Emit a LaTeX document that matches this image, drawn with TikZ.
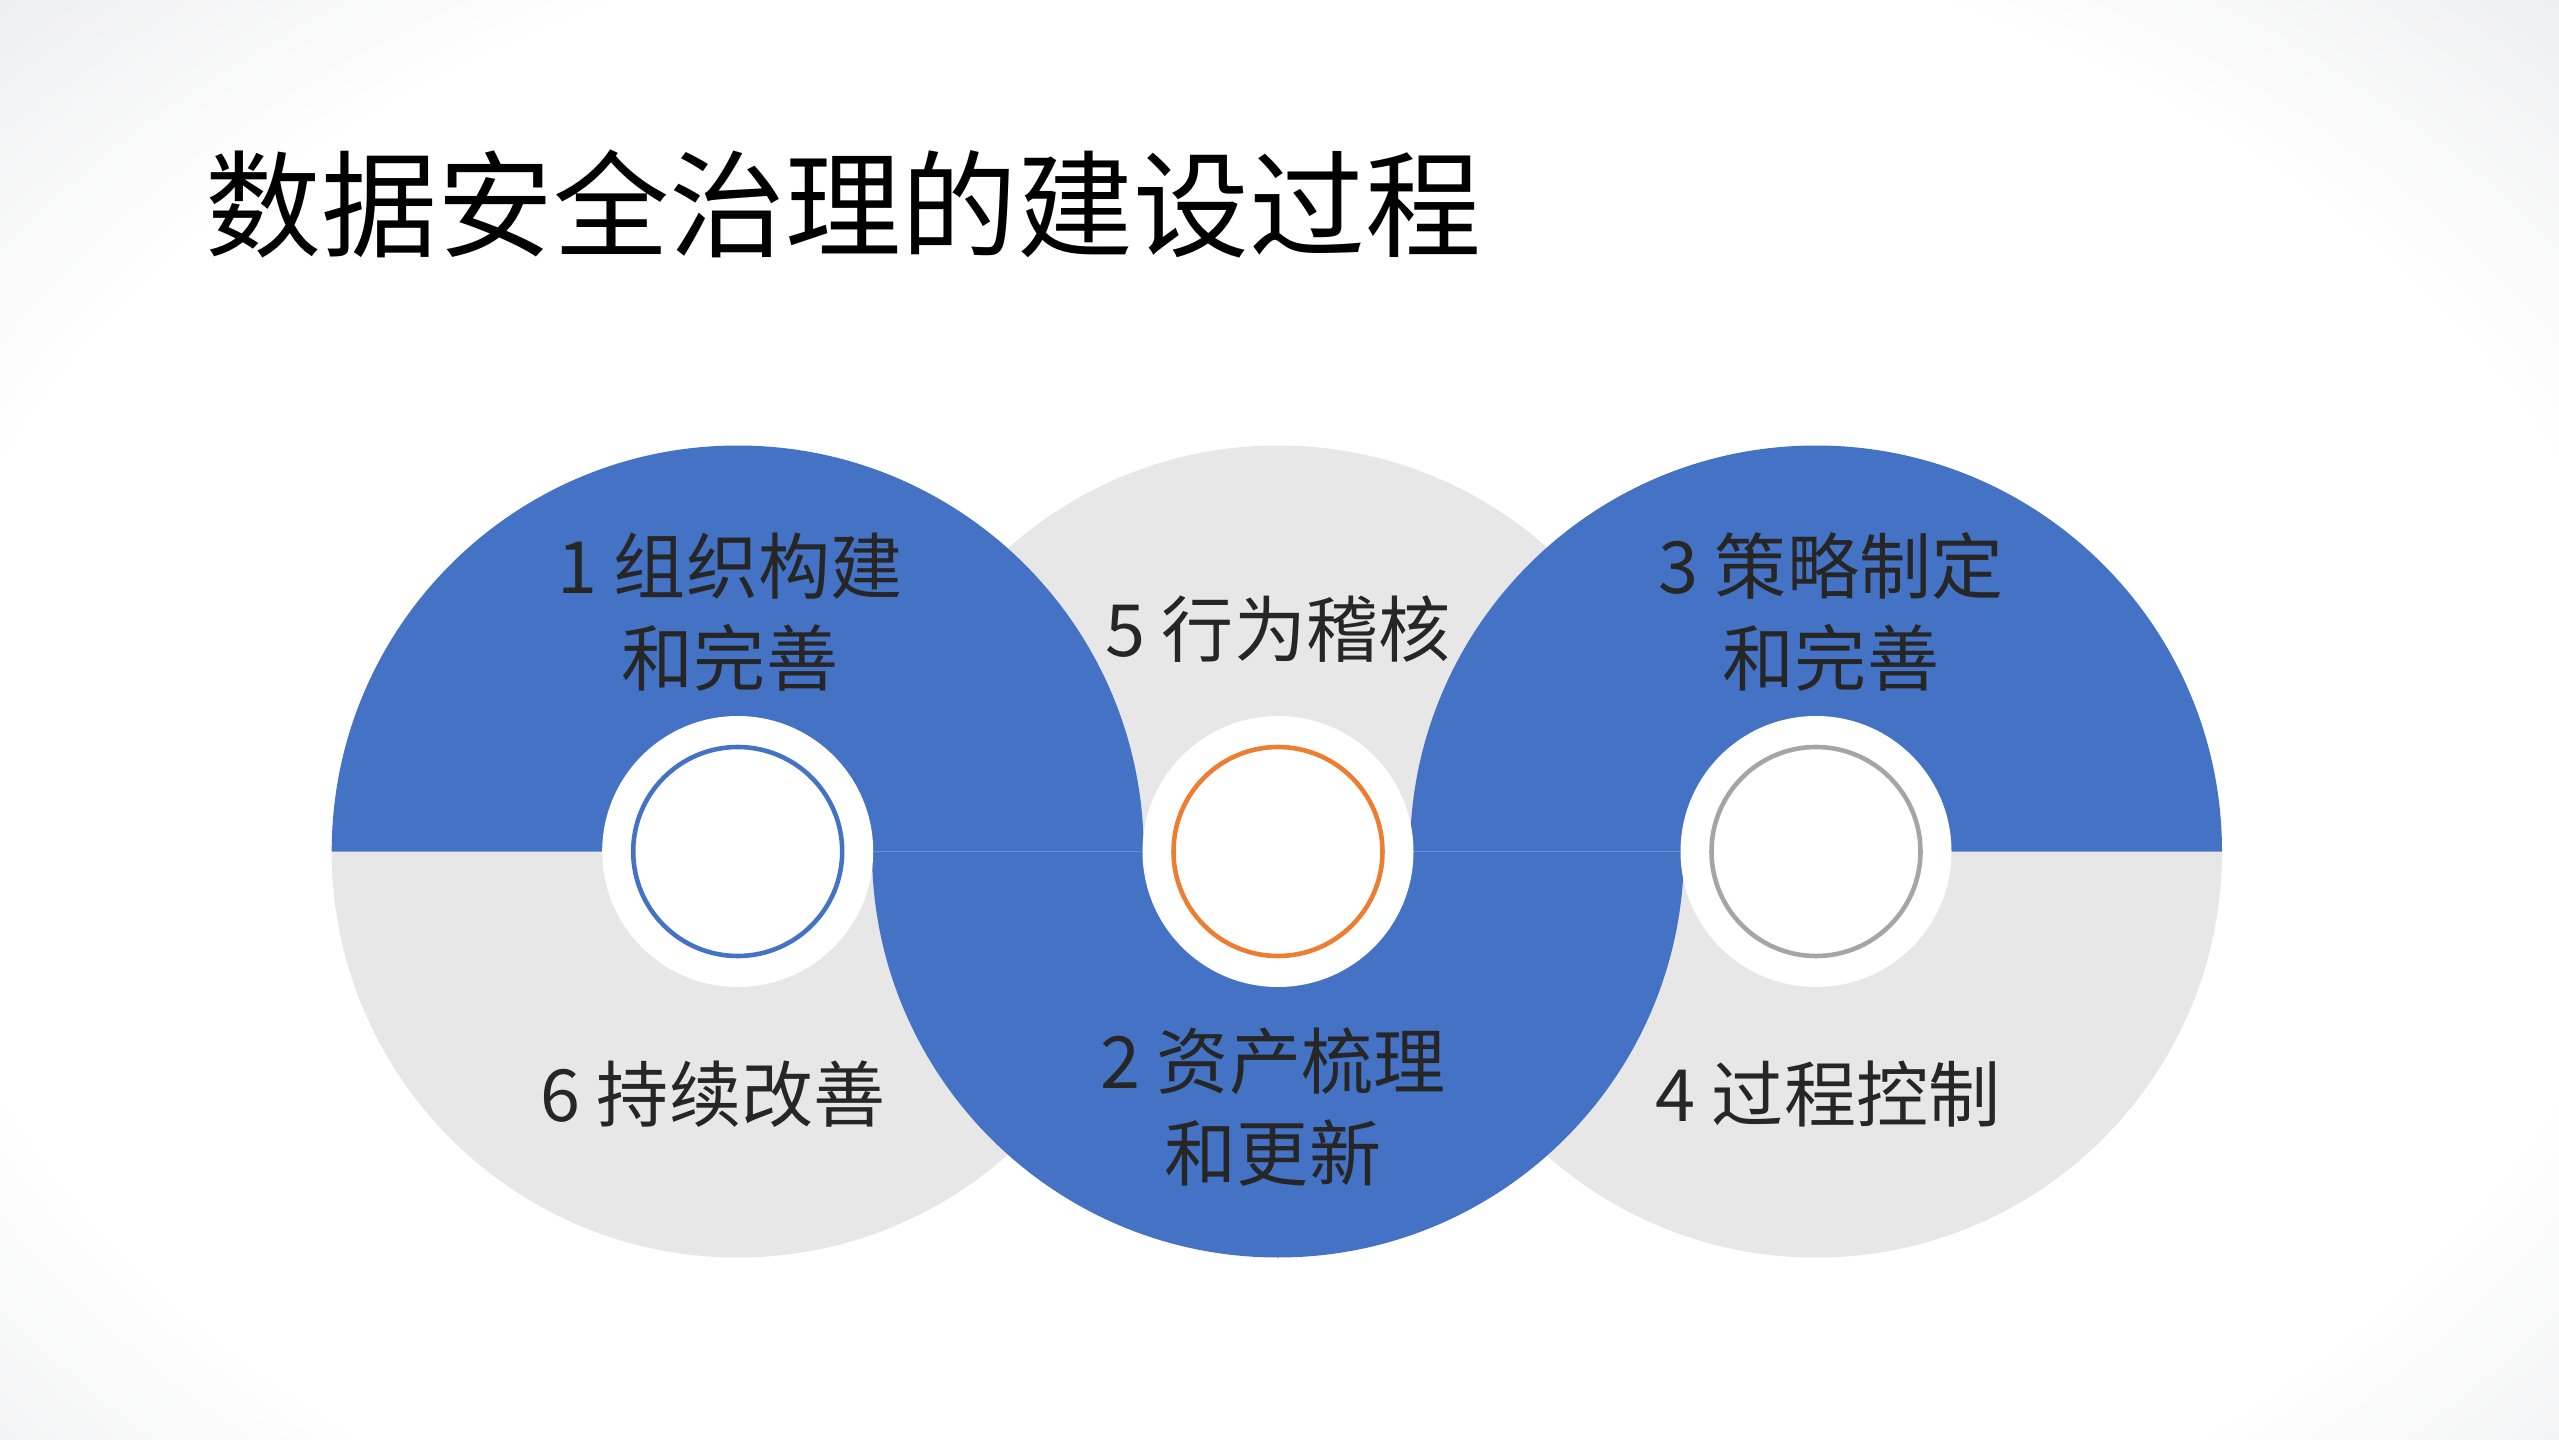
\documentclass[tikz,border=0pt]{standalone}
\usepackage{fontspec}
\newfontfamily\cjk{Noto Sans CJK SC}
\definecolor{bl}{HTML}{4472C4}
\definecolor{gr}{HTML}{E7E7E7}
\definecolor{bgout}{HTML}{8E939E}
\definecolor{tx}{HTML}{262626}
\pgfdeclareradialshading{bgsh}{\pgfpoint{0bp}{0bp}}{color(0bp)=(white); color(17bp)=(white); color(50bp)=(bgout)}
\begin{document}
\begin{tikzpicture}[
  lab/.style={font=\cjk\fontsize{20.5}{26}\selectfont, text=tx, align=center, inner sep=0pt},
  hole/.style={fill=white, draw=none},
  ringc/.style={line width=1.3pt, fill=none}]
\useasboundingbox (0,0) rectangle (25.59,14.39);
\fill[bgout] (0,0) rectangle (25.59,14.39);
\shade[shading=bgsh] (12.8,6.6) ellipse (20 and 13);
\def\R{4.06}
\coordinate (L) at (7.377,5.875);
\coordinate (M) at (12.78,5.875);
\coordinate (Rt) at (18.16,5.875);
% gray halves
\fill[gr] ([xshift=\R cm]M) arc (0:180:\R) -- cycle;
\fill[gr] ([xshift=\R cm]L) arc (0:-180:\R) -- cycle;
\fill[gr] ([xshift=\R cm]Rt) arc (0:-180:\R) -- cycle;
% blue halves
\fill[bl] ([xshift=\R cm]L) arc (0:180:\R) -- cycle;
\fill[bl] ([xshift=\R cm]Rt) arc (0:180:\R) -- cycle;
\fill[bl] ([xshift=\R cm]M) arc (0:-180:\R) -- cycle;
% holes and rings
\foreach \c in {L, M, Rt}{
  \fill[hole] (\c) circle (1.355);
}
\draw[ringc, draw=bl] (L) circle (1.045);
\draw[ringc, draw={rgb,255:red,237;green,125;blue,49}] (M) circle (1.045);
\draw[ringc, draw={rgb,255:red,165;green,165;blue,165}] (Rt) circle (1.045);
% title
\node[anchor=west, font=\cjk\fontsize{33}{40}\selectfont, text=black, inner sep=0pt] (title) at (2.05,12.35) {数据安全治理的建设过程};
\node[lab] (t1) at (7.30,8.27) {1 组织构建\\和完善};
\node[lab] (t5) at (12.78,8.10) {5 行为稽核};
\node[lab] (t3) at (18.31,8.27) {3 策略制定\\和完善};
\node[lab] (t6) at (7.13,3.45) {6 持续改善};
\node[lab] (t2) at (12.73,3.32) {2 资产梳理\\和更新};
\node[lab] (t4) at (18.28,3.45) {4 过程控制};
\end{tikzpicture}
\end{document}
